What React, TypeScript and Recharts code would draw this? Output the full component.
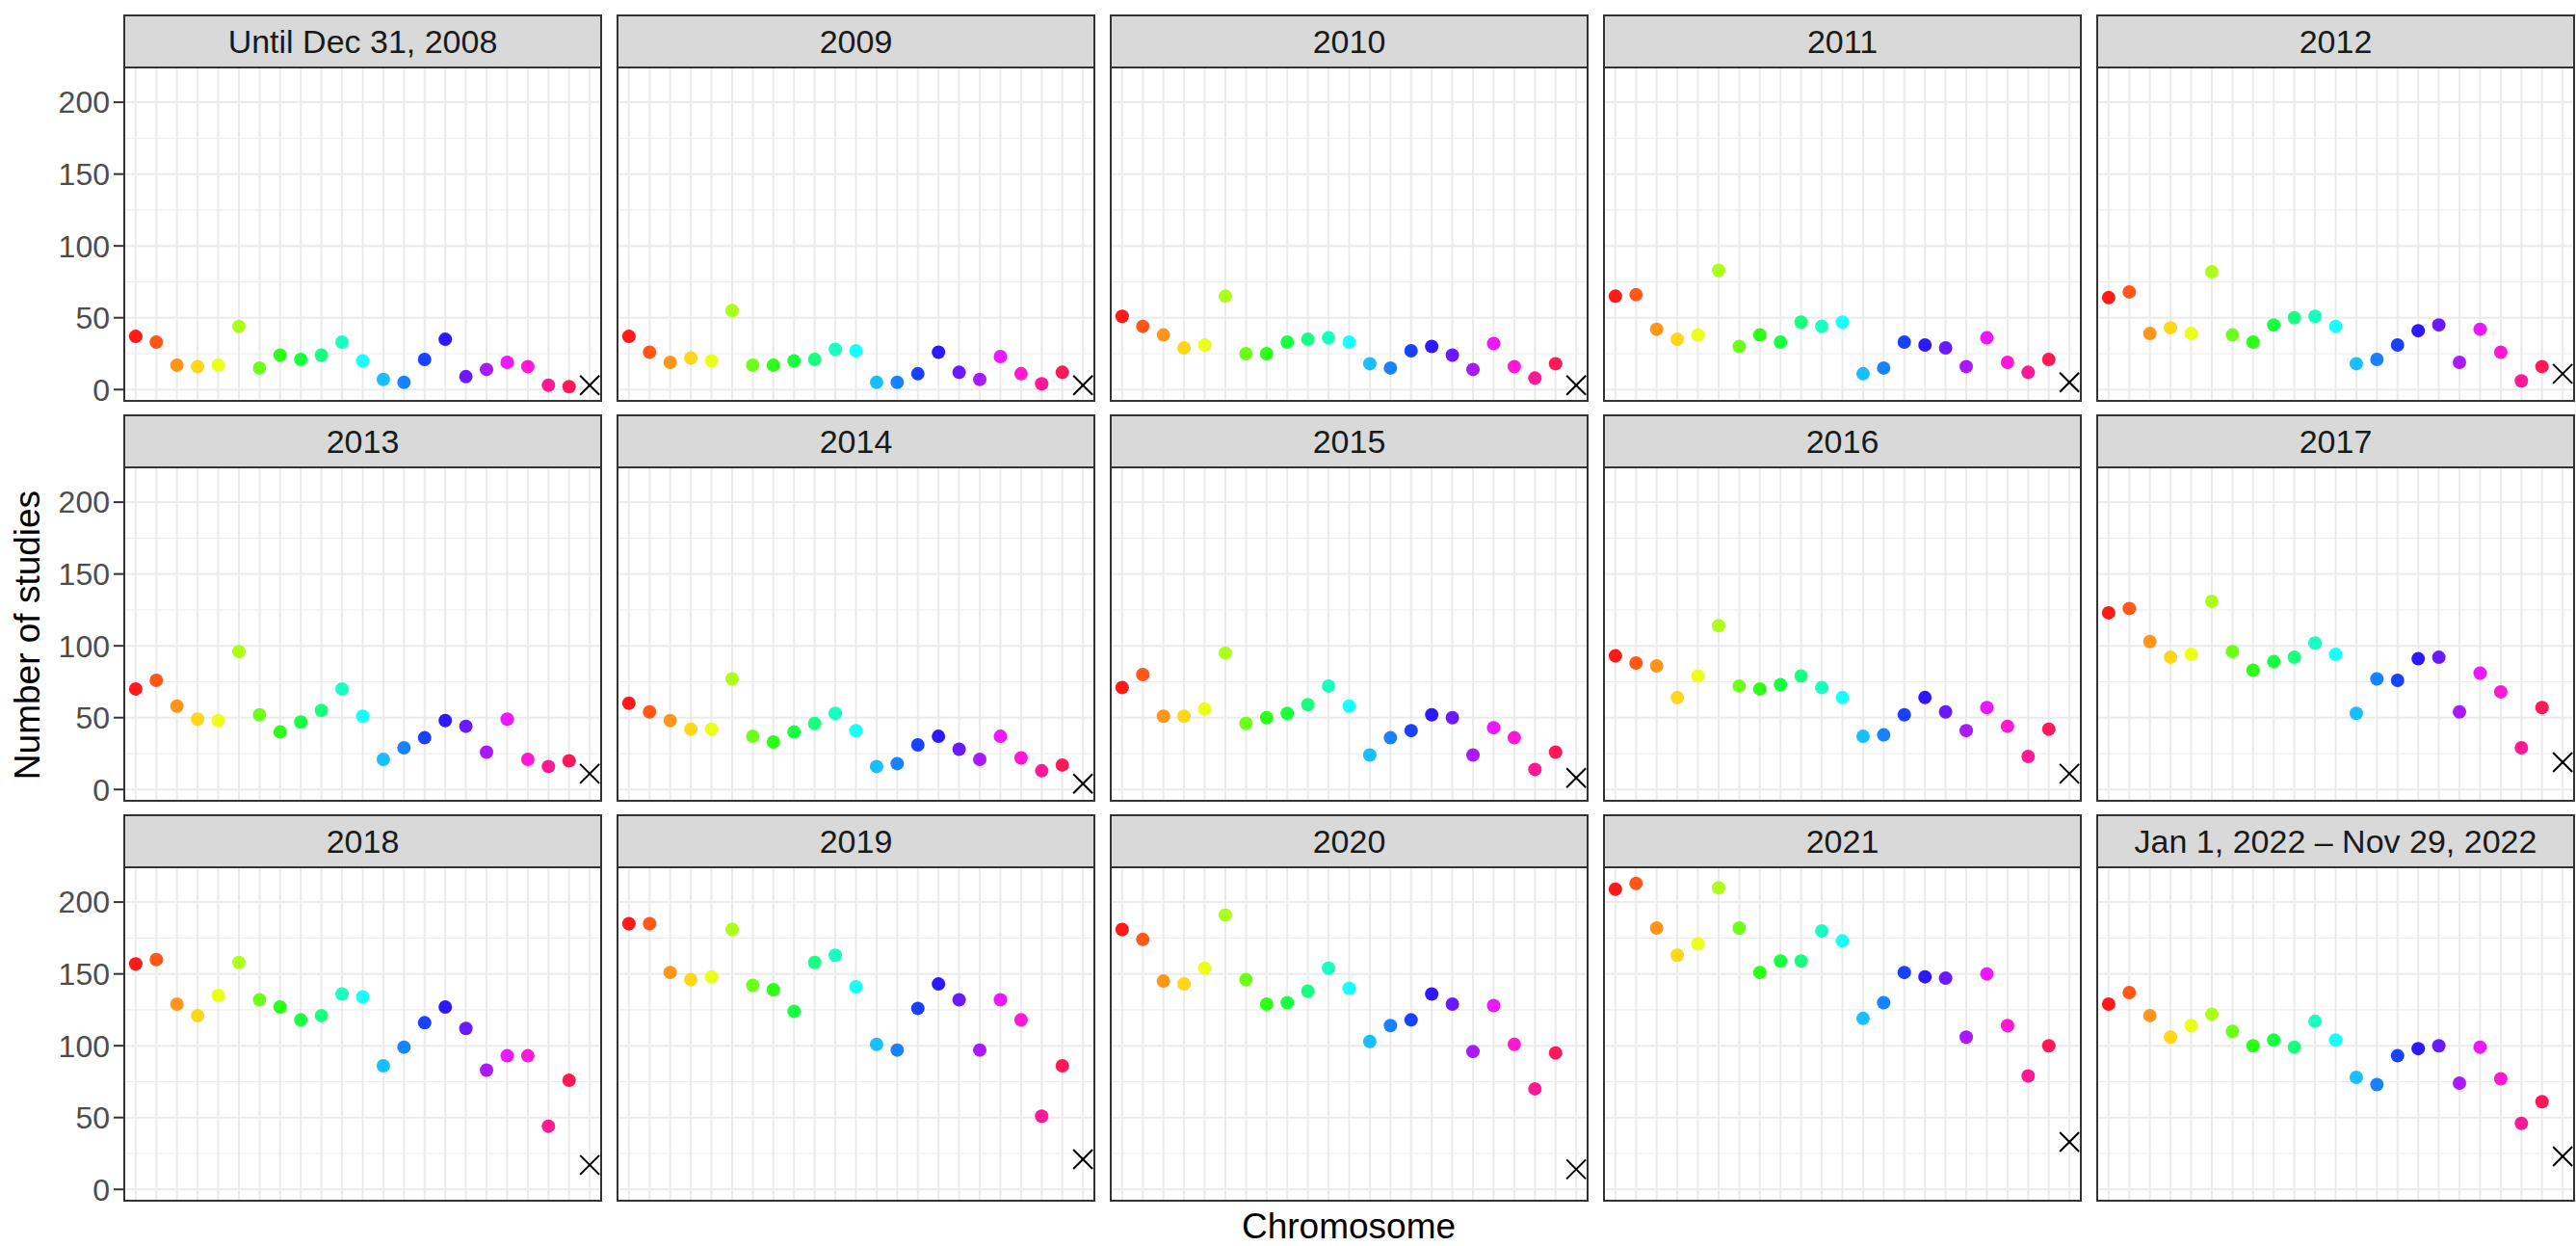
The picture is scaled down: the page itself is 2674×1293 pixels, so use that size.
import React from 'react';
import { ScatterChart, Scatter, XAxis, YAxis, CartesianGrid, Cell } from 'recharts';

const chromosomes = ['1', '2', '3', '4', '5', '6', '7', '8', '9', '10', '11', '12', '13', '14', '15', '16', '17', '18', '19', '20', '21', '22', 'X'];
const periods = ['Until Dec 31, 2008', '2009', '2010', '2011', '2012', '2013', '2014', '2015', '2016', '2017', '2018', '2019', '2020', '2021', 'Jan 1, 2022 \u2013 Nov 29, 2022'];

// studies per chromosome (1..22, X) for each period
const until2008 = [37, 33, 17, 16, 17, 44, 15, 24, 21, 24, 33, 20, 7, 5, 21, 35, 9, 14, 19, 16, 3, 2, 3];
const y2009 = [37, 26, 19, 22, 20, 55, 17, 17, 20, 21, 28, 27, 5, 5, 11, 26, 12, 7, 23, 11, 4, 12, 3];
const y2010 = [51, 44, 38, 29, 31, 65, 25, 25, 33, 35, 36, 33, 18, 15, 27, 30, 24, 14, 32, 16, 8, 18, 3];
const y2011 = [65, 66, 42, 35, 38, 83, 30, 38, 33, 47, 44, 47, 11, 15, 33, 31, 29, 16, 36, 19, 12, 21, 5];
const y2012 = [64, 68, 39, 43, 39, 82, 38, 33, 45, 50, 51, 44, 18, 21, 31, 41, 45, 19, 42, 26, 6, 16, 11];
const y2013 = [70, 76, 58, 49, 48, 96, 52, 40, 47, 55, 70, 51, 21, 29, 36, 48, 44, 26, 49, 21, 16, 20, 11];
const y2014 = [60, 54, 48, 42, 42, 77, 37, 33, 40, 46, 53, 41, 16, 18, 31, 37, 28, 21, 37, 22, 13, 17, 4];
const y2015 = [71, 80, 51, 51, 56, 95, 46, 50, 53, 59, 72, 58, 24, 36, 41, 52, 50, 24, 43, 36, 14, 26, 8];
const y2016 = [93, 88, 86, 64, 79, 114, 72, 70, 73, 79, 71, 64, 37, 38, 52, 64, 54, 41, 57, 44, 23, 42, 11];
const y2017 = [123, 126, 103, 92, 94, 131, 96, 83, 89, 92, 102, 94, 53, 77, 76, 91, 92, 54, 81, 68, 29, 57, 19];
const y2018 = [157, 160, 129, 121, 135, 158, 132, 127, 118, 121, 136, 134, 86, 99, 116, 127, 112, 83, 93, 93, 44, 76, 17];
const y2019 = [185, 185, 151, 146, 148, 181, 142, 139, 124, 158, 163, 141, 101, 97, 126, 143, 132, 97, 132, 118, 51, 86, 21];
const y2020 = [181, 174, 145, 143, 154, 191, 146, 129, 130, 138, 154, 140, 103, 114, 118, 136, 129, 96, 128, 101, 70, 95, 14];
const y2021 = [209, 213, 182, 163, 171, 210, 182, 151, 159, 159, 180, 173, 119, 130, 151, 148, 147, 106, 150, 114, 79, 100, 33];
const y2022 = [129, 137, 121, 106, 114, 122, 110, 100, 104, 99, 117, 104, 78, 73, 93, 98, 100, 74, 99, 77, 46, 61, 23];

const panelValues = [until2008, y2009, y2010, y2011, y2012, y2013, y2014, y2015, y2016, y2017, y2018, y2019, y2020, y2021, y2022];

// R rainbow(22)
const autosomeColors = [
  '#FF0000', '#FF4600', '#FF8B00', '#FFD100', '#E8FF00', '#A2FF00', '#5DFF00', '#17FF00',
  '#00FF2E', '#00FF74', '#00FFB9', '#00FFFF', '#00B9FF', '#0074FF', '#002EFF', '#1700FF',
  '#5D00FF', '#A200FF', '#E800FF', '#FF00D1', '#FF008B', '#FF0046',
];

const yTicks = [0, 50, 100, 150, 200];
const yMinor = [25, 75, 125, 175];
const xPositions = chromosomes.map((_, i) => i + 1);

const FONT = '"Liberation Sans", Arial, Helvetica, sans-serif';
const PLOT_W = 497;
const PLOT_H = 346;
const PAD = 24; // room above/below the plot so edge tick labels are not clipped
const STRIP_H = 56;
const COL_X0 = 128;
const COL_PITCH = 512;
const ROW_Y0 = 15;
const ROW_PITCH = 415;

const Dot = (props: any) => {
  const { cx, cy, fill } = props;
  if (cx == null || cy == null) return null;
  return <circle cx={cx} cy={cy} r={7} fill={fill} fillOpacity={0.9} />;
};

const Cross = (props: any) => {
  const { cx, cy } = props;
  if (cx == null || cy == null) return null;
  const h = 10;
  return (
    <g stroke="#000" strokeWidth={2}>
      <line x1={cx - h} y1={cy - h} x2={cx + h} y2={cy + h} />
      <line x1={cx - h} y1={cy + h} x2={cx + h} y2={cy - h} />
    </g>
  );
};

const Panel: React.FC<{ index: number }> = ({ index }) => {
  const col = index % 5;
  const row = Math.floor(index / 5);
  const left = COL_X0 + COL_PITCH * col;
  const stripTop = ROW_Y0 + ROW_PITCH * row;
  const plotTop = stripTop + STRIP_H;
  const values = panelValues[index];
  const autosomes = values.slice(0, 22).map((v, i) => ({ x: i + 1, y: v }));
  const sexChr = [{ x: 23, y: values[22] }];
  const first = col === 0;

  return (
    <>
      <div
        style={{
          position: 'absolute', left, top: stripTop, width: PLOT_W, height: STRIP_H,
          boxSizing: 'border-box', border: '2px solid #333333', background: '#D9D9D9',
          color: '#1A1A1A', fontSize: 34, display: 'flex', alignItems: 'center', justifyContent: 'center',
        }}
      >
        {periods[index]}
      </div>
      <div style={{ position: 'absolute', left: first ? 0 : left, top: plotTop - PAD }}>
        <ScatterChart
          width={first ? left + PLOT_W : PLOT_W}
          height={PLOT_H + 2 * PAD}
          margin={{ top: PAD, right: 0, bottom: PAD, left: 0 }}
        >
          <CartesianGrid horizontal horizontalValues={yMinor} vertical={false} stroke="#EBEBEB" strokeWidth={1} />
          <CartesianGrid horizontalValues={yTicks} verticalValues={xPositions} stroke="#EBEBEB" strokeWidth={2} />
          <XAxis type="number" dataKey="x" domain={[0.4, 23.6]} ticks={xPositions} hide allowDataOverflow />
          <YAxis
            type="number"
            dataKey="y"
            domain={[-8.55, 223.55]}
            ticks={yTicks}
            interval={0}
            allowDataOverflow
            hide={!first}
            width={first ? left : 0}
            axisLine={false}
            tickSize={10}
            tickMargin={4}
            tickLine={{ stroke: '#333333', strokeWidth: 2 }}
            tick={{ fontSize: 32, fill: '#4D4D4D', fontFamily: FONT }}
          />
          <Scatter data={autosomes} shape={<Dot />} isAnimationActive={false}>
            {autosomes.map((_, i) => (
              <Cell key={`c-${i}`} fill={autosomeColors[i]} />
            ))}
          </Scatter>
          <Scatter data={sexChr} shape={<Cross />} isAnimationActive={false} />
        </ScatterChart>
      </div>
      <div
        style={{
          position: 'absolute', left, top: plotTop - 2, width: PLOT_W, height: PLOT_H + 2,
          boxSizing: 'border-box', border: '2px solid #333333', pointerEvents: 'none',
        }}
      />
    </>
  );
};

export default function App() {
  return (
    <div
      style={{
        position: 'absolute', left: 0, top: 0, width: 2674, height: 1293,
        background: '#FFFFFF', fontFamily: FONT, overflow: 'hidden',
      }}
    >
      {periods.map((_, i) => (
        <Panel key={i} index={i} />
      ))}
      <div
        style={{
          position: 'absolute', left: 29, top: 659, transform: 'translate(-50%, -50%) rotate(-90deg)',
          fontSize: 37, color: '#000', whiteSpace: 'nowrap',
        }}
      >
        Number of studies
      </div>
      <div
        style={{
          position: 'absolute', left: 1400, top: 1273, transform: 'translate(-50%, -50%)',
          fontSize: 37, color: '#000', whiteSpace: 'nowrap',
        }}
      >
        Chromosome
      </div>
    </div>
  );
}
